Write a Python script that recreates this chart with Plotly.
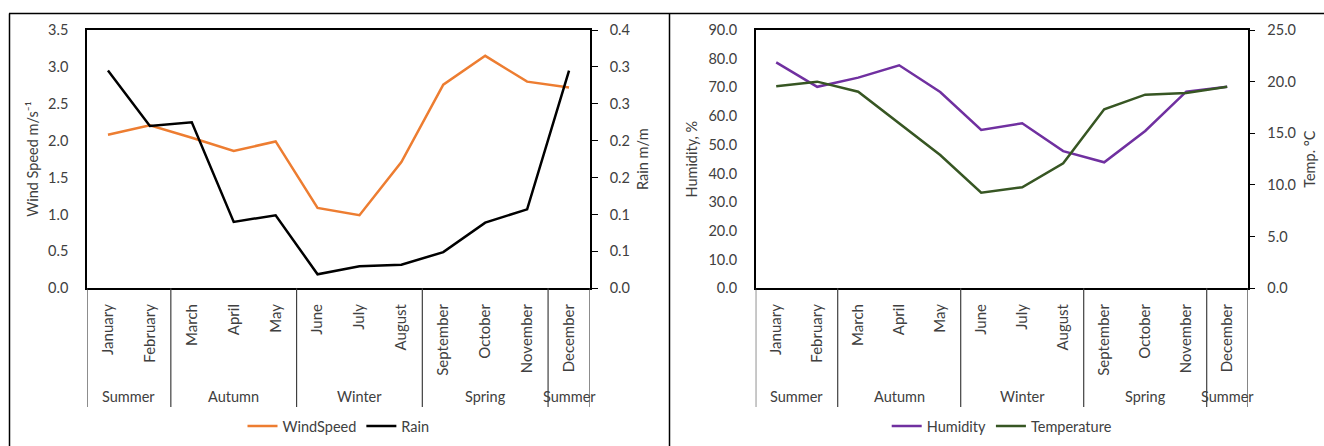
import plotly.graph_objects as go

# ---- data -------------------------------------------------------------
months = ["January", "February", "March", "April", "May", "June", "July",
          "August", "September", "October", "November", "December"]
month_season = ["Summer", "Summer", "Autumn", "Autumn", "Autumn", "Winter",
                "Winter", "Winter", "Spring", "Spring", "Spring", "Summer"]

wind_speed = [2.08, 2.21, 2.04, 1.86, 1.99, 1.09, 0.99, 1.71, 2.76, 3.15, 2.80, 2.72]
rain = [0.295, 0.220, 0.225, 0.090, 0.099, 0.019, 0.030, 0.032, 0.049, 0.089, 0.107, 0.295]

humidity = [78.7, 70.2, 73.4, 77.7, 68.4, 55.2, 57.5, 47.8, 43.9, 54.8, 68.5, 70.2]
temperature = [19.55, 20.0, 19.03, 15.97, 12.9, 9.25, 9.78, 12.1, 17.33, 18.74, 18.9, 19.51]

rain_tickvals = [0.0, 0.05, 0.10, 0.15, 0.20, 0.25, 0.30, 0.35]
rain_ticktext = ["0.0", "0.1", "0.1", "0.2", "0.2", "0.3", "0.3", "0.4"]

# ---- layout constants (pixels in a 1324 x 446 page) --------------------
W, H = 1324, 446
FONT = "Lato"
TXT = "#404040"
FS = 14.5


def px_x(p):
    return p / W


def px_y(p):
    return 1 - p / H


plot_top, plot_bot = 30, 288.3
left_dom = [px_x(87), px_x(590)]
right_dom = [px_x(755.7), px_x(1247.7)]
y_dom = [px_y(plot_bot), px_y(plot_top)]

COL_WIND = "#ED7D31"
COL_RAIN = "#000000"
COL_HUM = "#7030A0"
COL_TEMP = "#375623"

fig = go.Figure()

fig.add_trace(go.Scatter(x=months, y=wind_speed, name="WindSpeed", mode="lines",
                         line=dict(color=COL_WIND, width=2.5),
                         xaxis="x", yaxis="y", legend="legend"))
fig.add_trace(go.Scatter(x=months, y=rain, name="Rain", mode="lines",
                         line=dict(color=COL_RAIN, width=2.5),
                         xaxis="x", yaxis="y2", legend="legend"))
fig.add_trace(go.Scatter(x=months, y=humidity, name="Humidity", mode="lines",
                         line=dict(color=COL_HUM, width=2.5),
                         xaxis="x2", yaxis="y3", legend="legend2"))
fig.add_trace(go.Scatter(x=months, y=temperature, name="Temperature", mode="lines",
                         line=dict(color=COL_TEMP, width=2.5),
                         xaxis="x2", yaxis="y4", legend="legend2"))

axis_font = dict(family=FONT, size=FS, color=TXT)
month_font = dict(family=FONT, size=15, color=TXT)
line_style = dict(showline=True, linecolor="black", linewidth=1.5,
                  showgrid=False, zeroline=False)

x_common = dict(type="category", range=[-0.5, 11.5], tickangle=-90,
                ticks="", ticklabelstandoff=8, tickfont=month_font,
                mirror=True, fixedrange=True, **line_style)

fig.update_layout(
    width=W, height=H,
    margin=dict(l=0, r=0, t=0, b=0, autoexpand=False),
    paper_bgcolor="white", plot_bgcolor="white",
    font=dict(family=FONT, size=FS, color=TXT),
    xaxis=dict(domain=left_dom, anchor="y", **x_common),
    xaxis2=dict(domain=right_dom, anchor="y3", **x_common),
    yaxis=dict(domain=y_dom, anchor="x", range=[0, 3.5], dtick=0.5,
               tickformat=".1f", ticks="", ticklabelstandoff=14,
               tickfont=axis_font,
               title=dict(text="Wind Speed m/s⁻¹", standoff=6,
                          font=axis_font), **line_style),
    yaxis2=dict(domain=y_dom, anchor="x", overlaying="y", side="right",
                range=[0, 0.35], tickvals=rain_tickvals, ticktext=rain_ticktext,
                ticks="outside", ticklen=6, tickcolor="black", tickwidth=1.3,
                ticklabelstandoff=9, tickfont=axis_font,
                title=dict(text="Rain m/m", standoff=9, font=axis_font),
                **line_style),
    yaxis3=dict(domain=y_dom, anchor="x2", range=[0, 90], dtick=10,
                tickformat=".1f", ticks="", ticklabelstandoff=14,
                tickfont=axis_font,
                title=dict(text="Humidity, %", standoff=7, font=axis_font),
                **line_style),
    yaxis4=dict(domain=y_dom, anchor="x2", overlaying="y3", side="right",
                range=[0, 25], dtick=5, tickformat=".1f",
                ticks="outside", ticklen=6, tickcolor="black", tickwidth=1.3,
                ticklabelstandoff=9, tickfont=axis_font,
                title=dict(text="Temp. °C", standoff=10, font=axis_font),
                **line_style),
    legend=dict(orientation="h", x=(87 + 590) / 2 / W, xanchor="center",
                y=px_y(426), yanchor="middle", font=axis_font,
                bgcolor="rgba(0,0,0,0)", itemwidth=30),
    legend2=dict(orientation="h", x=(755.7 + 1247.7) / 2 / W, xanchor="center",
                 y=px_y(426), yanchor="middle", font=axis_font,
                 bgcolor="rgba(0,0,0,0)", itemwidth=30),
)

# ---- season grouping under the month labels ----------------------------
runs = []
start = 0
for i in range(1, len(months) + 1):
    if i == len(months) or month_season[i] != month_season[start]:
        runs.append((month_season[start], start, i - 1))
        start = i

shapes = []
annotations = []
div_bottom = px_y(407)
for xref in ("x", "x2"):
    bounds = [runs[0][1] - 0.5] + [end + 0.5 for _, _, end in runs]
    for b in bounds:
        shapes.append(dict(type="line", xref=xref, yref="paper",
                           x0=b, x1=b, y0=y_dom[0], y1=div_bottom,
                           line=dict(color="#404040", width=1.2)))
    for name, s, e in runs:
        annotations.append(dict(text=name, xref=xref, yref="paper",
                                x=(s + e) / 2, y=px_y(396), showarrow=False,
                                xanchor="center", yanchor="middle",
                                font=axis_font))

# ---- outer frame of the two chart panels -------------------------------
frame = dict(color="black", width=1.5)
shapes.append(dict(type="line", xref="paper", yref="paper",
                   x0=px_x(9), x1=1, y0=px_y(13.5), y1=px_y(13.5), line=frame))
shapes.append(dict(type="line", xref="paper", yref="paper",
                   x0=px_x(9.5), x1=px_x(9.5), y0=0, y1=px_y(13.5), line=frame))
shapes.append(dict(type="line", xref="paper", yref="paper",
                   x0=px_x(669.5), x1=px_x(669.5), y0=0, y1=px_y(13.5), line=frame))

fig.update_layout(shapes=shapes, annotations=annotations)

fig.write_html("out.html")
